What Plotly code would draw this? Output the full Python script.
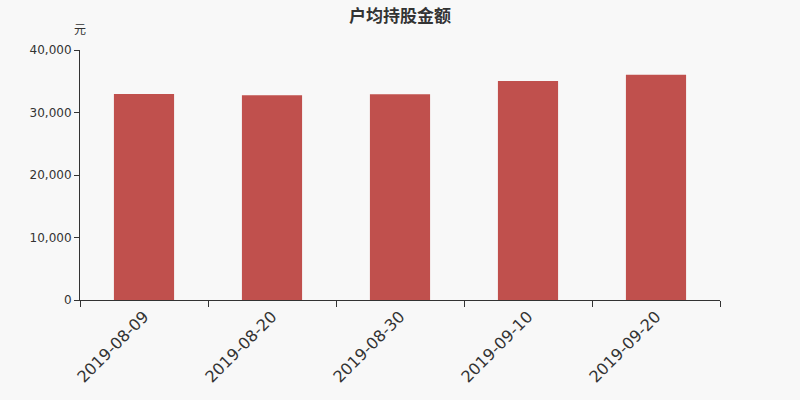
import plotly.graph_objects as go

# data
dates = ["2019-08-09", "2019-08-20", "2019-08-30", "2019-09-10", "2019-09-20"]
amounts = [32960, 32750, 32910, 35040, 36050]
y_ticks = [0, 10000, 20000, 30000, 40000]

fig = go.Figure()
fig.add_trace(go.Bar(
    x=dates,
    y=amounts,
    marker=dict(color="#c0504d", line=dict(width=0)),
))

fig.update_layout(
    width=800, height=400,
    paper_bgcolor="#f8f8f8", plot_bgcolor="#f8f8f8",
    margin=dict(l=80, r=80, t=50, b=100),
    bargap=0.53,
    showlegend=False,
    font=dict(family="DejaVu Sans, Noto Sans CJK SC", color="#333333"),
    title=dict(text="<b>户均持股金额</b>", x=0.5, xanchor="center", y=0.975, yanchor="top",
               font=dict(size=17, color="#333333", family="Noto Sans CJK SC")),
    annotations=[dict(text="元", xref="paper", yref="paper",
                      x=0.0, y=1.045, xanchor="center", yanchor="bottom",
                      showarrow=False,
                      font=dict(size=12, color="#333333", family="Noto Sans CJK SC"))],
)

fig.update_xaxes(
    type="category", showline=True, linecolor="#333333", linewidth=1,
    ticks="outside", tickson="boundaries", ticklen=6, tickcolor="#333333",
    tickangle=-45, tickfont=dict(size=16, color="#333333"), showgrid=False,
)
fig.update_yaxes(
    range=[0, 40000], tickvals=y_ticks, tickformat=",", showline=True,
    linecolor="#333333", linewidth=1, ticks="outside", ticklen=5,
    tickcolor="#333333", tickfont=dict(size=12, color="#333333"),
    showgrid=False, zeroline=False,
)

# drop the page's default body margin so the chart fills the window
fig.write_html("out.html", config={"displayModeBar": False},
               post_script="document.body.style.margin='0';")
